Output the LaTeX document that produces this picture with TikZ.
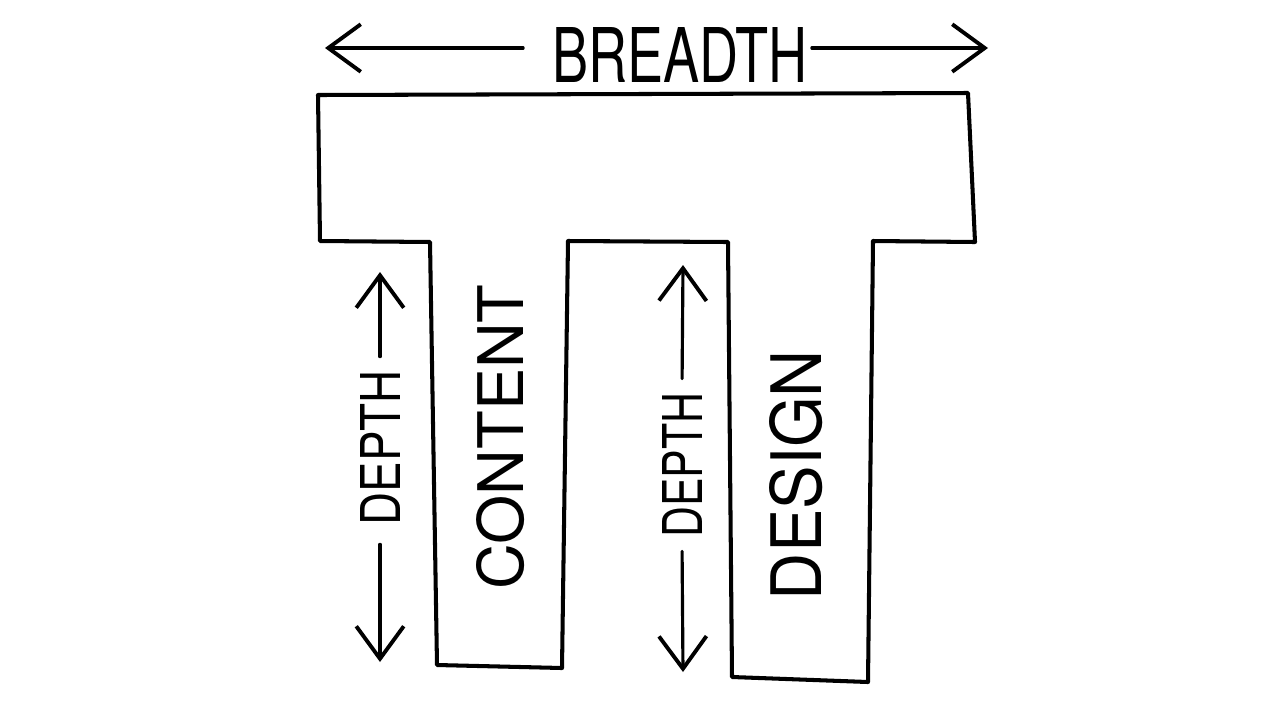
\documentclass[tikz,border=0pt]{standalone}
\usepackage{fontspec}
\setsansfont{TeX Gyre Heros}
\usetikzlibrary{arrows.meta}

\newcommand\handword[3]{\resizebox{#1}{#2}{\sffamily #3}}

\begin{document}
\begin{tikzpicture}[x=0.02cm,y=-0.02cm,
    outline/.style={line width=2.3pt,line join=round,line cap=round},
    arr/.style={line width=1.8pt,line cap=round,
      -{Straight Barb[length=0.65cm,width=0.95cm,line width=2.2pt]}},
    word/.style={inner sep=2pt}]

  \useasboundingbox (0,0) rectangle (1284,704);

  % --- the pi shape: top bar and the two legs ---
  \draw[outline] (318,95) -- (968,93) -- (975,242) -- (873,241)
    -- (868,682) -- (732,677) -- (728,242) -- (568,241)
    -- (562,668) -- (437,665) -- (430,242) -- (320,241) -- cycle;

  % --- breadth, across the top ---
  \node[word] (breadth) at (680,55) {\handword{5.12cm}{1.1cm}{BREADTH}};
  \coordinate (bleft)  at (325,48);
  \coordinate (bright) at (988,48);
  \draw[arr,shorten <=0.5cm] (breadth.west |- bleft) -- (bleft);
  \draw[arr] (breadth.east |- bright) -- (bright);

  % --- first leg: depth and content ---
  \node[word,rotate=90] (depthL) at (380,448) {\handword{3.1cm}{0.8cm}{DEPTH}};
  \coordinate (depthLtop) at (380,272);
  \coordinate (depthLbot) at (380,662);
  \draw[arr,shorten <=0.2cm] (depthL.east) -- (depthLtop);
  \draw[arr,shorten <=0.3cm] (depthL.west) -- (depthLbot);
  \node[word,rotate=90] (content) at (501,437) {\handword{6.1cm}{0.94cm}{CONTENT}};

  % --- second leg: depth and design ---
  \node[word,rotate=90] (depthR) at (682,465) {\handword{2.9cm}{0.8cm}{DEPTH}};
  \coordinate (depthRtop) at (683,265);
  \coordinate (depthRbot) at (683,672);
  \draw[arr,shorten <=0.2cm] (depthR.east) -- (depthRtop);
  \draw[arr,shorten <=0.2cm] (depthR.west) -- (depthRbot);
  \node[word,rotate=90] (design) at (796,475) {\handword{5cm}{1.04cm}{DESIGN}};
\end{tikzpicture}
\end{document}
